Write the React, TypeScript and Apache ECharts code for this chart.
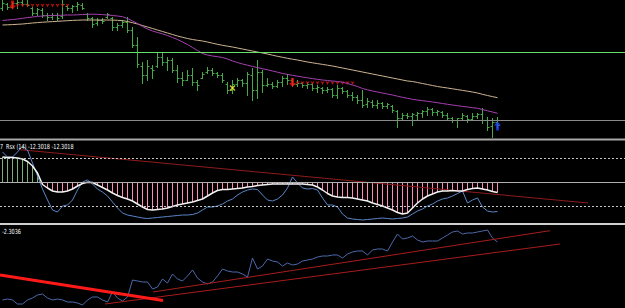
import React, { useEffect, useRef } from "react";
import * as echarts from "echarts";

// ---- main pane (price in points below chart top; axis is inverted) ----
const barHigh = [0,3,2,0,0,0,7,8,8,13, 13,13,0,5,5,2,3,13,17,18, 18,13,17,23,20,17,27,37,62,60, 65,53,53,57,58,65,72,70,68,80, 72,67,68,72,73,82,80,78,79,72, 68,60,70,78,82,80,76,74,78,80, 82,82,83,85,87,87,88,85,87,90, 92,95,90,98,100,100,102,103,105,110, 113,113,113,112,110,107,108,110,111,113, 117,118,113,115,113,113,108,117,118,117];
const barLow = [10,9,8,8,5,6,15,15,17,20, 19,20,18,10,12,10,9,20,27,25, 23,18,30,30,27,32,47,67,83,80, 78,67,65,70,72,82,85,80,85,90, 78,73,75,77,82,93,93,86,86,95, 100,98,92,86,88,87,86,84,86,86, 87,88,90,92,93,92,97,98,93,97, 100,103,107,107,107,108,108,108,112,127, 120,118,125,120,117,115,115,115,117,120, 122,127,120,122,120,118,123,130,137,127];
const barOpen = [8,4,7,3,2,4,8,13,10,15, 17,15,16,6,8,6,5,14,18,23, 20,17,18,27,25,22,30,45,66,75, 68,66,57,62,60,70,78,80,75,82, 78,72,70,73,75,84,90,84,80,83, 75,90,72,85,84,86,82,78,80,84, 83,85,84,88,88,90,89,95,88,91, 95,97,100,104,102,105,103,106,106,111, 118,115,116,115,113,111,109,112,112,115, 118,120,118,116,119,116,114,120,126,122];
const barClose = [3,7,3,2,4,5,13,9,15,17, 15,18,4,8,6,4,8,18,24,20, 21,14,27,25,22,30,45,64,75,66, 70,57,62,60,70,78,80,75,82,85, 74,70,73,75,80,90,84,80,83,74, 90,72,85,84,86,82,78,80,84,83, 85,84,88,87,90,89,95,88,91,95, 97,100,105,101,105,103,106,104,110,118, 115,116,114,113,111,109,112,111,115,118, 120,118,115,119,116,114,120,127,122,125];
const maSlow = [25,24.8,24.6,24.3,24,23.5,23,22.6,22.2,21.9, 21.6,21.3,21,20.7,20.4,20.2,20,20,20,20, 20,20,20.1,20.3,20.7,21.5,22.7,24,25.5,27, 28.5,30,31.5,33,34.5,36,37.3,38.5,39.5,40.3, 41,42,43.2,44.3,45.3,46.2,47,48,49,50, 51,52,53,54,55.2,56.3,57.3,58.3,59.2,60, 61,62,62.8,63.6,64.4,65.2,66,67,68,69, 70,71,72,73,74,75,76,77,78,79, 80,81,81.5,82.5,83.5,84.5,85.5,86.5,87.3,88, 88.8,89.6,90.4,91.2,92,93,94.3,95.5,96.6,97.7];
const maFast = [20.5,20,19.5,19,18.3,17.6,17,16.4,16,15.7, 15.5,15.3,15.2,15,15,14.8,14.5,14.3,14.2,14.3, 14.6,15,15.5,16,16.7,18.5,21,23.5,26.5,29, 31,32.5,33.8,35.5,37.5,39.5,42,44.5,47.5,50.5, 53.5,55,56,56.7,57.5,59,61,62.5,64,65.2, 66.4,67.6,68.7,69.8,71,72.2,73.5,74.4,75.3,76.2, 77,77.8,78.6,79.3,80,80.5,81,81.5,82.2,83.5, 85,86.5,88.5,89.8,91,92,93,94,95,96.2, 97.3,98.3,99.3,100,100.7,101.3,102,102.7,103.5,104.3, 105,105.7,106.4,107,107.7,108.3,109.5,110.8,112,113.3];
const priceLevels = [52, 120];
const sellArrows = [[2, 5], [58, 82.5]];
const sellTrail = [[3,5.5],[4,5.5],[5,5.5],[6,5.5],[7,5.5],[8,5.5],[9,5.5],[10,5.5],[11,5.5],[12,5.5],[13,5.5],
  [59,83],[60,83],[61,83],[62,83],[63,83],[64,83],[65,83],[66,83],[67,83],[68,83],[69,83],[70,83]];
const crossMarks = [[46, 88]];
const buyArrows = [[99, 126]];

// ---- middle pane (Rsx) ----
const rsxMain = [25,24.5,24.5,24,23,20.5,16,9,-2.5,-6, -9,-10,-10,-9,-7,-4,-1.5,-0.3,-0.5,-3, -5.5,-8,-11,-13.5,-15.5,-17,-19,-22,-25,-27.5, -28,-27.5,-27,-26,-24.5,-23,-22,-21,-20,-18.5, -17,-14,-11,-8.5,-7.5,-7.5,-7,-6.5,-6,-5, -4.5,-3.5,-3,-2.5,-2,-2,-2,-2,-2,-2, -2,-2.5,-3,-5,-8,-11.5,-14,-15,-15.5,-15.5, -16,-17,-18,-19,-21,-22.5,-24,-26,-28,-30.5, -32,-31,-26,-21,-17,-14,-12,-10,-9,-9, -8.5,-9,-9,-7.5,-6.5,-6,-7,-8,-9.5,-10.5];
const rsxSignal = [30,25,25,30,36,32,19,6,-7,-18, -28,-30,-24,-23,-18,-8,0,2,-2,-7, -10,-14,-20,-26,-31,-33,-34,-35,-36,-36.5, -36,-35.5,-35,-34.5,-34,-33.5,-33,-33,-32.5,-31, -28,-25,-25,-24,-22,-19,-17,-13,-10,-8, -7,-7.5,-13,-18,-19,-17,-13,-6,5,-1, -6,-7,-6.5,-8,-16,-23,-23,-25,-32,-36, -37,-37.5,-38,-37.5,-37,-36.5,-36,-36.5,-37,-36.5, -36,-35,-32,-29,-27,-24,-22,-19,-17,-16, -14,-11.5,-9,-21,-18,-16,-25,-29,-30,-29.5];
const rsxLevels = [24, -24];
const rsxTrend = [[3.5, 32.3], [117.1, -21]];
const rsxLabel = "Rsx (14) -12.3018 -12.3018";

// ---- bottom pane ----
const lowerLine = [8,9,8,4,4,8,10,13,14,10, 8,9,8,6,6,5,3,8,11,11, 8,6,16,10,7,11,28,27,26,26, 19,21,29,25,34,29,27,32,38,30, 26,24,26,32,39,37,36,36,34,31, 50,39,42,49,47,46,42,45,43,44, 47,48,49,51,52,52,53,53,50,54, 56,57,57,53,58,59,59,57,66,74, 69,70,72,68,66,67,67,67,70,73, 76,77,74,75,75,76,77,78,70,66];
const trendThick = [[-0.5, 33], [32.1, 7.5]];
const trendA = [[20.5, 4], [111.5, 64]];
const trendB = [[30.1, 16], [109.5, 77.3]];
const lowerLabel = "-2.3036";

const BAR_COLOR = "#46a846";

export default function App() {
  const ref = useRef<HTMLDivElement>(null);
  useEffect(() => {
    document.body.style.margin = "0";
    document.body.style.background = "#000";
    const chart = echarts.init(ref.current as HTMLDivElement, null, { renderer: "svg" });
    const idx = (arr: number[]) => arr.map((v, i) => [i, v]);
    const xAx = (g: number) => ({ type: "value", gridIndex: g, min: -0.5, max: 124.5, show: false });
    const ohlc = barHigh.map((h, i) => [i, barOpen[i], h, barLow[i], barClose[i]]);
    const option: any = {
      animation: false,
      backgroundColor: "#000000",
      grid: [
        { left: 0, top: 0, width: 625, height: 140 },
        { left: 0, top: 140, width: 625, height: 82 },
        { left: 0, top: 224, width: 625, height: 84 },
      ],
      xAxis: [xAx(0), xAx(1), xAx(2)],
      yAxis: [
        { type: "value", gridIndex: 0, min: 0, max: 140, inverse: true, show: false },
        { type: "value", gridIndex: 1, min: -40, max: 42, show: false },
        { type: "value", gridIndex: 2, min: 0, max: 84, show: false },
      ],
      series: [
        {
          type: "line", xAxisIndex: 0, yAxisIndex: 0, data: [], silent: true,
          markLine: {
            silent: true, symbol: "none", label: { show: false },
            data: [
              { yAxis: priceLevels[0], lineStyle: { color: "#66e066", width: 1, type: "solid" } },
              { yAxis: priceLevels[1], lineStyle: { color: "#8a8a8a", width: 1, type: "solid" } },
            ],
          },
        },
        { type: "line", xAxisIndex: 0, yAxisIndex: 0, data: idx(maSlow), symbol: "none", lineStyle: { color: "#cdb590", width: 1 }, silent: true },
        { type: "line", xAxisIndex: 0, yAxisIndex: 0, data: idx(maFast), symbol: "none", lineStyle: { color: "#a540b0", width: 1 }, silent: true },
        {
          type: "custom", xAxisIndex: 0, yAxisIndex: 0, data: ohlc, silent: true,
          encode: { x: 0, y: [1, 2, 3, 4] },
          renderItem: (_p: any, api: any) => {
            const i = api.value(0);
            const hi = api.coord([i, api.value(2)]);
            const lo = api.coord([i, api.value(3)]);
            const op = api.coord([i, api.value(1)]);
            const cl = api.coord([i, api.value(4)]);
            const x = hi[0];
            const st = { stroke: BAR_COLOR, lineWidth: 1 };
            return {
              type: "group",
              children: [
                { type: "line", shape: { x1: x, y1: hi[1], x2: x, y2: lo[1] + 1 }, style: st },
                { type: "line", shape: { x1: x - 2, y1: Math.round(op[1]) + 0.5, x2: x, y2: Math.round(op[1]) + 0.5 }, style: st },
                { type: "line", shape: { x1: x, y1: Math.round(cl[1]) + 0.5, x2: x + 2, y2: Math.round(cl[1]) + 0.5 }, style: st },
              ],
            };
          },
        },
        { type: "scatter", xAxisIndex: 0, yAxisIndex: 0, data: sellTrail, symbol: "path://M0,0L2,1L4,0L2,4Z", symbolSize: [4, 4], itemStyle: { color: "#e01818" }, silent: true },
        { type: "scatter", xAxisIndex: 0, yAxisIndex: 0, data: sellArrows, symbol: "path://M3,0L7,0L7,6L10,6L5,11L0,6L3,6Z", symbolSize: [7, 9], itemStyle: { color: "#ff1010" }, silent: true },
        { type: "scatter", xAxisIndex: 0, yAxisIndex: 0, data: crossMarks, symbol: "path://M0,1L1,0L3,2L5,0L6,1L4,3L6,5L5,6L3,4L1,6L0,5L2,3Z", symbolSize: [6, 6], itemStyle: { color: "#ffff30" }, silent: true },
        { type: "scatter", xAxisIndex: 0, yAxisIndex: 0, data: buyArrows, symbol: "path://M5,0L10,5L7,5L7,11L3,11L3,5L0,5Z", symbolSize: [7, 9], itemStyle: { color: "#2244ff" }, silent: true },

        // middle pane
        {
          type: "bar", xAxisIndex: 1, yAxisIndex: 1, data: idx(rsxMain), barWidth: 1, silent: true,
          itemStyle: { color: (p: any) => (p.value[1] >= 0 ? "#7ab07a" : "#ff8cb6") },
          markLine: {
            silent: true, symbol: "none", label: { show: false },
            data: [
              { yAxis: rsxLevels[0], lineStyle: { color: "#c8c8c8", width: 1, type: [2, 2] } },
              { yAxis: rsxLevels[1], lineStyle: { color: "#c8c8c8", width: 1, type: [2, 2] } },
              { yAxis: 0, lineStyle: { color: "#b0b0b0", width: 1, type: "solid" } },
            ],
          },
        },
        { type: "line", xAxisIndex: 1, yAxisIndex: 1, data: rsxTrend, symbol: "none", lineStyle: { color: "#8e1c1c", width: 1 }, silent: true },
        { type: "line", xAxisIndex: 1, yAxisIndex: 1, data: idx(rsxSignal), symbol: "none", lineStyle: { color: "#5a86c6", width: 1 }, silent: true },
        { type: "line", xAxisIndex: 1, yAxisIndex: 1, data: idx(rsxMain), symbol: "none", lineStyle: { color: "#f2f2f2", width: 1.5 }, silent: true },

        // bottom pane
        { type: "line", xAxisIndex: 2, yAxisIndex: 2, data: idx(lowerLine), symbol: "none", lineStyle: { color: "#4d68aa", width: 1 }, silent: true },
        { type: "line", xAxisIndex: 2, yAxisIndex: 2, data: trendA, symbol: "none", lineStyle: { color: "#a81c1c", width: 1 }, silent: true },
        { type: "line", xAxisIndex: 2, yAxisIndex: 2, data: trendB, symbol: "none", lineStyle: { color: "#a81c1c", width: 1 }, silent: true },
        { type: "line", xAxisIndex: 2, yAxisIndex: 2, data: trendThick, symbol: "none", lineStyle: { color: "#ff1a1a", width: 3 }, silent: true },
      ],
      graphic: [
        { type: "rect", z: 100, shape: { x: 0, y: 138.5, width: 625, height: 2 }, style: { fill: "#a8a8a8" } },
        { type: "rect", z: 100, shape: { x: 0, y: 223, width: 625, height: 2 }, style: { fill: "#cfcfcf" } },
        { type: "text", z: 100, x: 0, y: 146.5, scaleX: 0.7, style: { text: "7", fill: "#ffffff", fontSize: 7, fontFamily: "DejaVu Sans", verticalAlign: "middle" } },
        { type: "text", z: 100, x: 6, y: 146.5, scaleX: 0.7, style: { text: rsxLabel, fill: "#ffffff", fontSize: 7, fontFamily: "DejaVu Sans", verticalAlign: "middle" } },
        { type: "text", z: 100, x: 2, y: 231, scaleX: 0.7, style: { text: lowerLabel, fill: "#ffffff", fontSize: 7, fontFamily: "DejaVu Sans", verticalAlign: "middle" } },
      ],
    };
    chart.setOption(option);
    return () => chart.dispose();
  }, []);
  return <div ref={ref} style={{ position: "absolute", left: 0, top: 0, width: 625, height: 308 }} />;
}
